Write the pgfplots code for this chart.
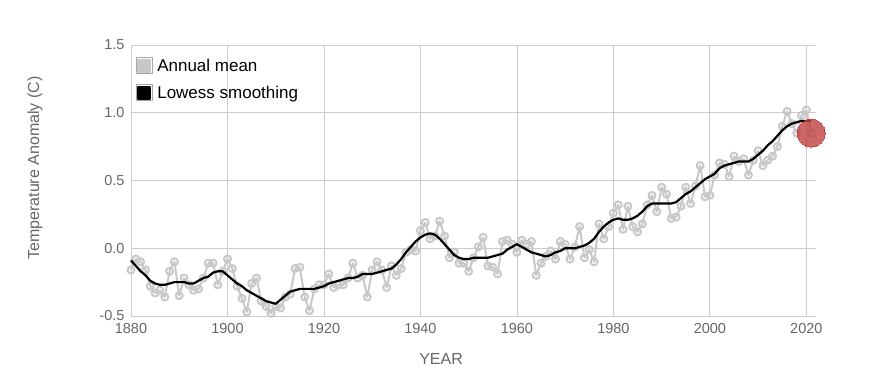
\documentclass[border=0pt]{standalone}
\usepackage{pgfplots}
\pgfplotsset{compat=1.18}
\usepackage{pgfplotstable}
\usepackage{fontspec}
\setmainfont{Liberation Sans}
\definecolor{ticklab}{HTML}{666666}
\definecolor{gridc}{HTML}{CCCCCC}
\definecolor{annc}{HTML}{C8C8C8}
\definecolor{redc}{RGB}{192,64,64}
\pgfplotstableread{
year val
1880 -0.16
1881 -0.08
1882 -0.10
1883 -0.16
1884 -0.28
1885 -0.33
1886 -0.31
1887 -0.36
1888 -0.17
1889 -0.10
1890 -0.35
1891 -0.22
1892 -0.27
1893 -0.31
1894 -0.30
1895 -0.22
1896 -0.11
1897 -0.11
1898 -0.27
1899 -0.17
1900 -0.08
1901 -0.15
1902 -0.28
1903 -0.37
1904 -0.47
1905 -0.26
1906 -0.22
1907 -0.39
1908 -0.43
1909 -0.48
1910 -0.43
1911 -0.44
1912 -0.36
1913 -0.34
1914 -0.15
1915 -0.14
1916 -0.36
1917 -0.46
1918 -0.30
1919 -0.27
1920 -0.27
1921 -0.19
1922 -0.29
1923 -0.27
1924 -0.27
1925 -0.22
1926 -0.11
1927 -0.22
1928 -0.20
1929 -0.36
1930 -0.16
1931 -0.10
1932 -0.16
1933 -0.29
1934 -0.13
1935 -0.20
1936 -0.15
1937 -0.03
1938 -0.01
1939 -0.02
1940 0.13
1941 0.19
1942 0.07
1943 0.09
1944 0.20
1945 0.09
1946 -0.07
1947 -0.03
1948 -0.11
1949 -0.11
1950 -0.17
1951 -0.07
1952 0.01
1953 0.08
1954 -0.13
1955 -0.14
1956 -0.19
1957 0.05
1958 0.06
1959 0.03
1960 -0.03
1961 0.06
1962 0.03
1963 0.05
1964 -0.20
1965 -0.11
1966 -0.06
1967 -0.02
1968 -0.08
1969 0.05
1970 0.03
1971 -0.08
1972 0.01
1973 0.16
1974 -0.07
1975 -0.01
1976 -0.10
1977 0.18
1978 0.07
1979 0.16
1980 0.26
1981 0.32
1982 0.14
1983 0.31
1984 0.16
1985 0.12
1986 0.18
1987 0.32
1988 0.39
1989 0.27
1990 0.45
1991 0.40
1992 0.22
1993 0.23
1994 0.31
1995 0.45
1996 0.33
1997 0.46
1998 0.61
1999 0.38
2000 0.39
2001 0.54
2002 0.63
2003 0.62
2004 0.53
2005 0.68
2006 0.64
2007 0.66
2008 0.54
2009 0.65
2010 0.72
2011 0.61
2012 0.65
2013 0.68
2014 0.75
2015 0.90
2016 1.01
2017 0.92
2018 0.85
2019 0.98
2020 1.02
2021 0.85
}\annual
\pgfplotstableread{
year val
1880 -0.09
1881 -0.13
1882 -0.17
1883 -0.20
1884 -0.24
1885 -0.26
1886 -0.27
1887 -0.27
1888 -0.26
1889 -0.25
1890 -0.25
1891 -0.25
1892 -0.26
1893 -0.26
1894 -0.24
1895 -0.22
1896 -0.21
1897 -0.18
1898 -0.17
1899 -0.17
1900 -0.20
1901 -0.23
1902 -0.26
1903 -0.28
1904 -0.31
1905 -0.33
1906 -0.35
1907 -0.37
1908 -0.39
1909 -0.40
1910 -0.41
1911 -0.38
1912 -0.35
1913 -0.32
1914 -0.31
1915 -0.30
1916 -0.30
1917 -0.30
1918 -0.30
1919 -0.29
1920 -0.28
1921 -0.26
1922 -0.25
1923 -0.24
1924 -0.23
1925 -0.22
1926 -0.22
1927 -0.21
1928 -0.19
1929 -0.19
1930 -0.19
1931 -0.18
1932 -0.17
1933 -0.16
1934 -0.15
1935 -0.12
1936 -0.08
1937 -0.03
1938 0.01
1939 0.05
1940 0.08
1941 0.10
1942 0.11
1943 0.10
1944 0.07
1945 0.03
1946 -0.01
1947 -0.05
1948 -0.07
1949 -0.08
1950 -0.08
1951 -0.07
1952 -0.07
1953 -0.07
1954 -0.07
1955 -0.06
1956 -0.05
1957 -0.04
1958 -0.01
1959 0.01
1960 0.03
1961 0.01
1962 -0.01
1963 -0.03
1964 -0.04
1965 -0.05
1966 -0.06
1967 -0.05
1968 -0.03
1969 -0.02
1970 0.00
1971 0.00
1972 0.00
1973 0.01
1974 0.02
1975 0.04
1976 0.07
1977 0.12
1978 0.16
1979 0.19
1980 0.21
1981 0.22
1982 0.21
1983 0.21
1984 0.22
1985 0.24
1986 0.27
1987 0.31
1988 0.33
1989 0.33
1990 0.33
1991 0.33
1992 0.33
1993 0.34
1994 0.37
1995 0.40
1996 0.42
1997 0.45
1998 0.48
1999 0.51
2000 0.53
2001 0.55
2002 0.59
2003 0.61
2004 0.62
2005 0.63
2006 0.64
2007 0.64
2008 0.64
2009 0.66
2010 0.69
2011 0.72
2012 0.76
2013 0.79
2014 0.83
2015 0.87
2016 0.90
2017 0.92
2018 0.93
2019 0.94
2020 0.94
2021 0.94
}\lowess
\begin{document}
\begin{tikzpicture}
\path[use as bounding box] (0,0) rectangle (883pt,377pt);
\begin{axis}[
  at={(131pt,61pt)}, anchor=south west,
  scale only axis, width=685pt, height=271pt,
  xmin=1880, xmax=2022, ymin=-0.5, ymax=1.5,
  xtick={1880,1900,...,2020}, ytick={-0.5,0,0.5,1,1.5},
  xticklabel style={/pgf/number format/1000 sep={}},
  yticklabel style={/pgf/number format/fixed,/pgf/number format/fixed zerofill,/pgf/number format/precision=1},
  /pgf/number format/assume math mode=true,
  tick style={draw=none},
  axis line style={draw=none},
  grid=major, grid style={gridc, line width=0.8pt},
  ticklabel style={font=\fontsize{14.5}{16}\selectfont, text=ticklab},
  xticklabel shift=4pt, yticklabel shift=3pt,
  xlabel={YEAR}, ylabel={Temperature Anomaly (C)},
  xlabel style={font=\fontsize{16}{18}\selectfont, text=ticklab, at={(axis description cs:0.4526,-0.16)}, anchor=center},
  ylabel style={font=\fontsize{16}{18}\selectfont, text=ticklab, at={(axis description cs:-0.140,0.546)}, anchor=center},
  legend style={at={(axis description cs:0.007,0.955)}, anchor=north west, draw=none, fill=none,
    font=\fontsize{17}{19}\selectfont, row sep=10pt, column sep=3pt, inner sep=0pt,
    nodes={inner sep=1.5pt}},
  legend cell align=left,
  clip=false,
  clip marker paths=true,
]
\addplot[annc, line width=2pt, line join=round, mark=o, mark size=3.5pt,
  mark options={annc, fill=white, line width=2pt},
  legend image code/.code={\draw[draw=gray!70, fill=white, line width=0.8pt] (0pt,-8pt) rectangle (16pt,8pt);
    \fill[annc] (2pt,-6pt) rectangle (14pt,6pt);}]
  table[x=year,y=val] {\annual};
\addlegendentry{Annual mean}
\addplot[black, line width=2.2pt, line join=round,
  legend image code/.code={\draw[draw=gray!70, fill=white, line width=0.8pt] (0pt,-8pt) rectangle (16pt,8pt);
    \fill[black] (2pt,-6pt) rectangle (14pt,6pt);}]
  table[x=year,y=val] {\lowess};
\addlegendentry{Lowess smoothing}
\addplot[forget plot, redc, only marks, opacity=0.8, mark=*, mark size=14pt,
  mark options={line width=0pt}]
  coordinates {(2021,0.85)};
\end{axis}
\end{tikzpicture}
\end{document}
